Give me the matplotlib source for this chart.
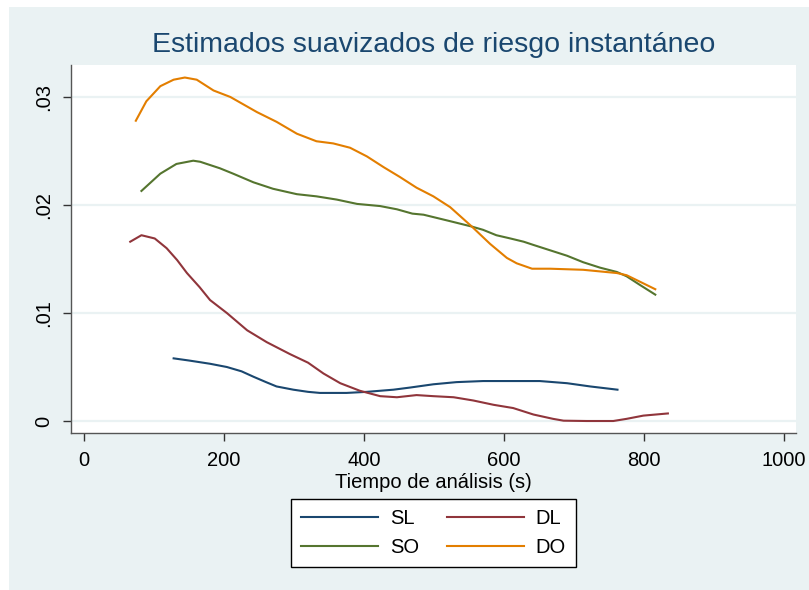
import matplotlib
matplotlib.use("Agg")
import matplotlib.pyplot as plt
from matplotlib.patches import Rectangle

plt.rcParams['font.family'] = ['Liberation Sans', 'DejaVu Sans']

title = "Estimados suavizados de riesgo instantáneo"
xlabel = "Tiempo de análisis (s)"
xticks = [0, 200, 400, 600, 800, 1000]
yticks = [0, 0.01, 0.02, 0.03]
ytick_labels = ["0", ".01", ".02", ".03"]

SL_x = [128, 150, 180, 204, 225, 242, 260, 275, 299, 320, 337, 356, 375, 404, 442, 466, 499, 532, 570, 609, 651, 690, 723, 762]
SL_y = [.0058, .0056, .0053, .0050, .0046, .0041, .0036, .0032, .0029, .0027, .0026, .0026, .0026, .0027, .0029, .0031, .0034, .0036, .0037, .0037, .0037, .0035, .0032, .0029]

DL_x = [66, 82, 101, 118, 133, 147, 165, 180, 204, 233, 261, 294, 320, 342, 366, 394, 423, 447, 475, 499, 528, 556, 585, 613, 642, 670, 685, 718, 756, 775, 799, 834]
DL_y = [.0166, .0172, .0169, .0160, .0149, .0137, .0124, .0112, .0100, .0084, .0073, .0062, .0054, .0044, .0035, .0028, .0023, .0022, .0024, .0023, .0022, .0019, .0015, .0012, .0006, .0002, .00003, .0000, .0000, .0002, .0005, .0007]

SO_x = [82, 109, 132, 156, 166, 194, 213, 242, 270, 304, 332, 361, 390, 423, 447, 469, 485, 523, 554, 570, 589, 609, 628, 642, 666, 690, 713, 737, 761, 775, 794, 816]
SO_y = [.0213, .0229, .0238, .0241, .0240, .0234, .0229, .0221, .0215, .0210, .0208, .0205, .0201, .0199, .0196, .0192, .0191, .0185, .0180, .0177, .0172, .0169, .0166, .0163, .0158, .0153, .0147, .0142, .0138, .0134, .0126, .0117]

DO_x = [74, 89, 109, 128, 144, 161, 185, 209, 228, 247, 275, 304, 332, 356, 380, 404, 428, 451, 475, 499, 523, 554, 580, 604, 618, 640, 666, 713, 761, 775, 794, 816]
DO_y = [.0278, .0296, .0310, .0316, .0318, .0316, .0306, .0300, .0293, .0286, .0277, .0266, .0259, .0257, .0253, .0245, .0235, .0226, .0216, .0208, .0198, .0180, .0164, .0151, .0146, .0141, .0141, .0140, .0137, .0135, .0129, .0122]

series = {"SL": (SL_x, SL_y, "#1A476F"),
          "DL": (DL_x, DL_y, "#90353B"),
          "SO": (SO_x, SO_y, "#55752F"),
          "DO": (DO_x, DO_y, "#E37E00")}

W, H = 809, 590
fig = plt.figure(figsize=(W / 100, H / 100), dpi=100, facecolor="white")
bg = "#EAF2F3"
fig.patches.append(Rectangle((9 / W, 0), 1 - 9 / W, 1 - 7 / H, transform=fig.transFigure,
                             facecolor=bg, edgecolor="none", zorder=-10))

ax = fig.add_axes([71 / W, 1 - 433 / H, (796 - 71) / W, (433 - 65) / H])
ax.set_facecolor("white")
lines = {}
for lab, (xs, ys, c) in series.items():
    lines[lab], = ax.plot(xs, ys, color=c, lw=1.5, label=lab,
                          solid_joinstyle="round")

ax.set_xlim(-18.6, 1017)
ax.set_ylim(-0.00111, 0.03296)
ax.set_xticks(xticks)
ax.set_xticklabels([str(v) for v in xticks])
ax.set_yticks(yticks)
ax.set_yticklabels(ytick_labels, rotation=90, va="center")
ax.grid(axis="y", color=bg, lw=1.6)
ax.set_axisbelow(True)
for s in ["top", "right"]:
    ax.spines[s].set_visible(False)
for s in ["left", "bottom"]:
    ax.spines[s].set_color("#555555")
    ax.spines[s].set_linewidth(1.0)
ax.tick_params(axis="both", direction="out", length=6, width=1, color="#333333",
               labelsize=14.5)
ax.tick_params(axis="x", pad=7)
ax.tick_params(axis="y", pad=7)

ax.set_xlabel(xlabel, fontsize=14.5, labelpad=2)
fig.text(433.5 / W, 1 - 45 / H, title, ha="center", va="center", fontsize=20.5, color="#1A476F")

order = ["SL", "SO", "DL", "DO"]
leg = fig.legend(handles=[lines[k] for k in order], labels=order, ncol=2,
                 loc="center", bbox_to_anchor=(433.5 / W, 1 - 533 / H),
                 fontsize=14.5, frameon=True, fancybox=False, handlelength=3.8,
                 handletextpad=0.6, columnspacing=1.4, borderpad=0.5, labelspacing=0.5,
                 borderaxespad=0)
leg.get_frame().set_edgecolor("black")
leg.get_frame().set_linewidth(1.0)
leg.get_frame().set_facecolor("white")
leg.get_frame().set_alpha(1)

fig.savefig("out.png", dpi=100, facecolor=fig.get_facecolor())
